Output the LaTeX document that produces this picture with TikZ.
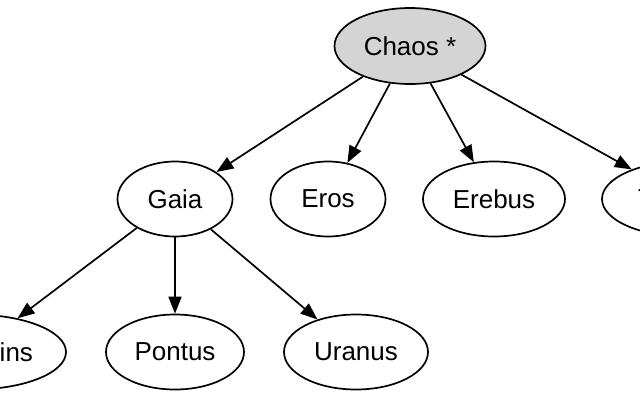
\documentclass[tikz,border=0pt]{standalone}
\usepackage{fontspec}
\setmainfont{Liberation Sans}
\usetikzlibrary{shapes.geometric,arrows.meta}

\tikzset{
  godnode/.style={ellipse,draw=black,line width=1.7pt,inner sep=0pt,font=\fontsize{26}{30}\selectfont},
  godedge/.style={line width=1.7pt,-{Triangle[length=17pt,width=13pt]}}
}

\begin{document}
\begin{tikzpicture}[x=1pt,y=-1pt]
\useasboundingbox (0,0) rectangle (640,400);
% top row
\node[godnode,fill=black!17,minimum width=151pt,minimum height=76pt] (chaos) at (410,46) {Chaos *};
% second row
\node[godnode,minimum width=115pt,minimum height=75pt] (gaia) at (175,199) {Gaia};
\node[godnode,minimum width=115pt,minimum height=75pt] (eros) at (328,199) {Eros};
\node[godnode,minimum width=142pt,minimum height=75pt] (erebus) at (494,199) {Erebus};
\node[godnode,minimum width=166pt,minimum height=75pt] (tartarus) at (685,199) {Tartarus};
% third row
\node[godnode,minimum width=186pt,minimum height=75pt] (mountains) at (-27,352) {Mountains};
\node[godnode,minimum width=138pt,minimum height=75pt] (pontus) at (175,352) {Pontus};
\node[godnode,minimum width=144pt,minimum height=75pt] (uranus) at (356,352) {Uranus};
% edges
\foreach \child in {gaia,eros,erebus,tartarus}
  \draw[godedge] (chaos) -- (\child);
\foreach \child in {mountains,pontus,uranus}
  \draw[godedge] (gaia) -- (\child);
\end{tikzpicture}
\end{document}
